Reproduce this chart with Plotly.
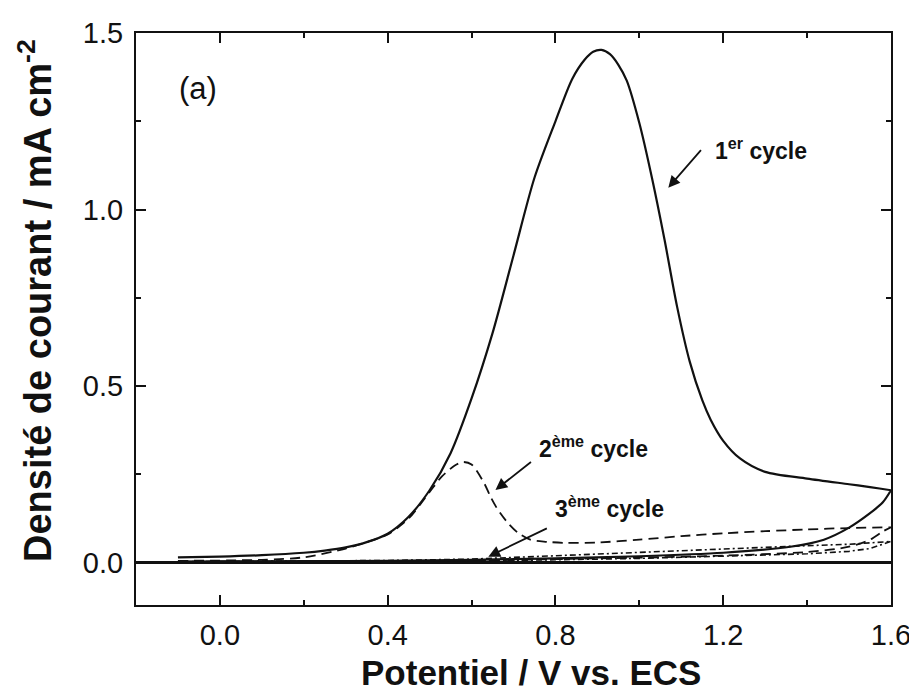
import plotly.graph_objects as go

# ---- data ----
# Cycle 1 (solid): forward scan then reverse scan
c1_fwd_v = [-0.10, 0.00, 0.10, 0.20, 0.25, 0.30, 0.35, 0.40, 0.45, 0.50, 0.55, 0.60, 0.65, 0.70,
            0.75, 0.80, 0.84, 0.87, 0.89, 0.91, 0.93, 0.95, 0.97, 1.00, 1.03, 1.06, 1.09, 1.12,
            1.15, 1.17, 1.20, 1.24, 1.30, 1.40, 1.50, 1.55, 1.60]
c1_fwd_i = [0.015, 0.017, 0.021, 0.028, 0.034, 0.043, 0.058, 0.082, 0.130, 0.205, 0.310, 0.465, 0.650, 0.870,
            1.090, 1.250, 1.370, 1.425, 1.447, 1.452, 1.440, 1.410, 1.365, 1.245, 1.090, 0.915, 0.725, 0.570,
            0.460, 0.405, 0.345, 0.295, 0.257, 0.238, 0.222, 0.214, 0.205]
c1_rev_v = [1.60, 1.58, 1.55, 1.50, 1.44, 1.36, 1.20, 1.00, 0.80, 0.60, 0.40, 0.20, 0.00, -0.10]
c1_rev_i = [0.205, 0.170, 0.140, 0.099, 0.065, 0.045, 0.028, 0.018, 0.012, 0.008, 0.005, 0.004, 0.003, 0.003]

# Cycle 2 (dashed)
c2_fwd_v = [-0.10, 0.10, 0.20, 0.30, 0.35, 0.40, 0.45, 0.50, 0.53, 0.56, 0.58, 0.60, 0.63, 0.645, 0.66,
            0.686, 0.71, 0.74, 0.78, 0.82, 0.90, 1.00, 1.10, 1.20, 1.30, 1.40, 1.50, 1.60]
c2_fwd_i = [0.005, 0.008, 0.015, 0.040, 0.058, 0.080, 0.125, 0.200, 0.245, 0.275, 0.285, 0.278, 0.225, 0.187, 0.155,
            0.113, 0.085, 0.065, 0.059, 0.056, 0.057, 0.065, 0.075, 0.083, 0.089, 0.094, 0.098, 0.100]
c2_rev_v = [1.60, 1.58, 1.55, 1.50, 1.40, 1.20, 1.00, 0.80, 0.60, 0.30, -0.10]
c2_rev_i = [0.100, 0.088, 0.065, 0.045, 0.030, 0.020, 0.014, 0.010, 0.006, 0.004, 0.003]

# Cycle 3 (dash-dot)
c3_fwd_v = [-0.10, 0.20, 0.40, 0.60, 0.80, 1.00, 1.20, 1.40, 1.50, 1.55, 1.60]
c3_fwd_i = [0.003, 0.004, 0.006, 0.010, 0.020, 0.030, 0.040, 0.048, 0.052, 0.055, 0.060]
c3_rev_v = [1.60, 1.55, 1.50, 1.40, 1.20, 1.00, 0.80, 0.60, 0.30, -0.10]
c3_rev_i = [0.060, 0.040, 0.032, 0.025, 0.018, 0.012, 0.008, 0.005, 0.003, 0.002]

x_ticks = [0.0, 0.4, 0.8, 1.2, 1.6]
x_ticklabels = ["0.0", "0.4", "0.8", "1.2", "1.6"]
y_ticks = [0.0, 0.5, 1.0, 1.5]
y_ticklabels = ["0.0", "0.5", "1.0", "1.5"]
x_title = "Potentiel / V vs. ECS"
y_title = "Densité de courant / mA cm<sup>-2</sup>"

INK = "#111111"
FONT = "Liberation Sans, Arial, sans-serif"

fig = go.Figure()
fig.add_trace(go.Scatter(x=c3_fwd_v + c3_rev_v, y=c3_fwd_i + c3_rev_i, mode="lines",
                         line=dict(color=INK, width=1.6, dash="6px,3px,2px,3px"), name="3ème cycle"))
fig.add_trace(go.Scatter(x=c2_fwd_v + c2_rev_v, y=c2_fwd_i + c2_rev_i, mode="lines",
                         line=dict(color=INK, width=1.8, dash="10px,6px", shape="spline", smoothing=0.8),
                         name="2ème cycle"))
fig.add_trace(go.Scatter(x=c1_fwd_v + c1_rev_v, y=c1_fwd_i + c1_rev_i, mode="lines",
                         line=dict(color=INK, width=2.2, shape="spline", smoothing=0.8), name="1er cycle"))

axis_common = dict(
    showline=True, linecolor=INK, linewidth=2, mirror="ticks",
    ticks="inside", ticklen=10, tickwidth=2, tickcolor=INK,
    showgrid=False, automargin=False,
    tickfont=dict(family=FONT, size=29, color=INK),
)

fig.update_layout(
    width=917, height=695,
    margin=dict(l=128, r=34, t=25, b=98),
    paper_bgcolor="white", plot_bgcolor="white",
    showlegend=False,
    xaxis=dict(range=[-0.2, 1.6], tickvals=x_ticks, ticktext=x_ticklabels,
               zeroline=False, ticklabelstandoff=3,
               minor=dict(ticks="inside", ticklen=5, tickwidth=2, tickcolor=INK, dtick=0.2, tick0=0.0),
               **axis_common),
    yaxis=dict(range=[-0.12, 1.5], tickvals=y_ticks, ticktext=y_ticklabels,
               zeroline=True, zerolinecolor=INK, zerolinewidth=2.5, ticklabelstandoff=5,
               minor=dict(ticks="inside", ticklen=5, tickwidth=2, tickcolor=INK, dtick=0.25, tick0=0.0),
               **axis_common),
)

# axis titles as annotations (for exact placement)
fig.add_annotation(xref="paper", yref="paper", x=0.523, y=-0.1556, text=x_title, showarrow=False,
                   xanchor="center", yanchor="bottom",
                   font=dict(family=FONT, size=35, color=INK, weight="bold"))
fig.add_annotation(xref="paper", yref="paper", x=-0.134, y=0.533, text=y_title, showarrow=False,
                   textangle=-90, xanchor="center", yanchor="middle",
                   font=dict(family=FONT, size=38, color=INK, weight="bold"))

ann_font = dict(family=FONT, size=23, color=INK, weight="bold")
# labels
fig.add_annotation(x=-0.052, y=1.342, text="(a)", showarrow=False,
                   font=dict(family=FONT, size=31, color=INK))
fig.add_annotation(x=1.176, y=1.172, text="1<sup>er</sup> cycle", showarrow=False,
                   xanchor="left", yanchor="middle", font=ann_font)
fig.add_annotation(x=0.757, y=0.328, text="2<sup>ème</sup> cycle", showarrow=False,
                   xanchor="left", yanchor="middle", font=ann_font)
fig.add_annotation(x=0.795, y=0.158, text="3<sup>ème</sup> cycle", showarrow=False,
                   xanchor="left", yanchor="middle", font=ann_font)
# arrows
for hx, hy, ax, ay in [(1.069, 1.062, 34, -39), (0.657, 0.206, 37, -29), (0.640, 0.017, 60, -29)]:
    fig.add_annotation(x=hx, y=hy, ax=ax, ay=ay, text="", showarrow=True,
                       arrowhead=2, arrowsize=1.3, arrowwidth=1.8, arrowcolor=INK)

fig.write_html("out.html")
